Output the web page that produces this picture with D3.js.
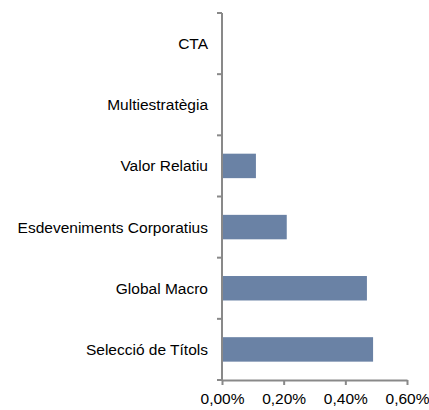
<!DOCTYPE html>
<html>
<head>
<meta charset="utf-8">
<script src="https://cdn.jsdelivr.net/npm/d3@7"></script>
<style>
body { margin: 0; background: #fff; }
text { font-family: "Liberation Sans", Arial, sans-serif; }
</style>
</head>
<body>
<div id="chart"></div>
<script>
var categories = ["CTA", "Multiestratègia", "Valor Relatiu", "Esdeveniments Corporatius", "Global Macro", "Selecció de Títols"];
var values = [0, 0, 0.0011, 0.0021, 0.0047, 0.0049];
var xTicks = [0, 0.002, 0.004, 0.006];

var margin = {top: 13, right: 22, bottom: 30, left: 222},
    width = 429 - margin.left - margin.right,
    height = 410 - margin.top - margin.bottom;

var svg = d3.select("#chart").append("svg")
    .attr("width", 429)
    .attr("height", 410);

var g = svg.append("g")
    .attr("transform", "translate(" + margin.left + "," + margin.top + ")");

var x = d3.scaleLinear().domain([0, 0.006]).range([0, width]);
var y = d3.scaleBand().domain(categories).range([0, height]).paddingInner(0.6).paddingOuter(0.3);

var fmt = function(d) { return d3.format(".2%")(d).replace(".", ","); };

// bars
g.selectAll("rect.bar")
    .data(values)
    .enter()
    .append("rect")
    .attr("class", "bar")
    .attr("x", x(0))
    .attr("y", function(d, i) { return y(categories[i]); })
    .attr("width", function(d) { return x(d) - x(0); })
    .attr("height", y.bandwidth())
    .style("fill", "#6a82a5");

// x axis
var xAxis = g.append("g")
    .attr("transform", "translate(0," + height + ")")
    .call(d3.axisBottom(x).tickValues(xTicks).tickFormat(fmt).tickSize(5).tickSizeOuter(0));
xAxis.select(".domain").attr("stroke", "#898989").attr("stroke-width", 2);
xAxis.selectAll(".tick line").attr("stroke", "#898989").attr("stroke-width", 2);
xAxis.selectAll(".tick text").attr("fill", "#000").style("font-size", "15.5px").attr("y", 13).attr("dy", "0.71em");

// y axis: ticks at band boundaries
var bounds = d3.range(categories.length + 1).map(function(i) { return i * height / categories.length; });
var yg = g.append("g");
yg.append("line")
    .attr("x1", 0).attr("x2", 0)
    .attr("y1", 0).attr("y2", height)
    .attr("stroke", "#898989").attr("stroke-width", 2);
yg.selectAll("line.tk")
    .data(bounds)
    .enter()
    .append("line")
    .attr("class", "tk")
    .attr("x1", -5).attr("x2", 0)
    .attr("y1", function(d) { return d; }).attr("y2", function(d) { return d; })
    .attr("stroke", "#898989").attr("stroke-width", 2);
yg.selectAll("text")
    .data(categories)
    .enter()
    .append("text")
    .attr("x", -14)
    .attr("y", function(d) { return y(d) + y.bandwidth() / 2; })
    .attr("dy", "0.35em")
    .attr("text-anchor", "end")
    .style("font-size", "15.5px")
    .text(function(d) { return d; });
</script>
</body>
</html>
